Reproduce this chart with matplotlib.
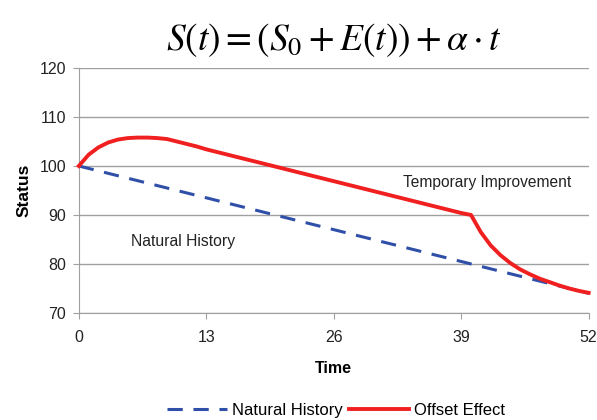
import numpy as np
import matplotlib
matplotlib.use("Agg")
import matplotlib.pyplot as plt

plt.rcParams['font.family'] = ['Liberation Sans', 'DejaVu Sans']
plt.rcParams['mathtext.fontset'] = 'stix'

# weekly values
weeks = list(range(53))
offset_effect = [100.0, 102.3, 103.8, 104.8, 105.4, 105.7, 105.8, 105.8, 105.7, 105.5,
                 105.0, 104.5, 104.0, 103.4, 102.9, 102.4, 101.9, 101.4, 100.9, 100.4,
                 99.9, 99.4, 98.9, 98.4, 97.9, 97.4, 96.9, 96.4, 95.9, 95.4,
                 94.9, 94.4, 93.9, 93.4, 92.9, 92.4, 91.9, 91.4, 90.9, 90.4,
                 90.0, 86.5, 83.8, 81.8, 80.2, 78.9, 77.9, 77.0, 76.3, 75.6,
                 75.0, 74.5, 74.1]
nh_weeks = [0, 13, 26, 39, 52]
natural_history = [100.0, 93.5, 87.0, 80.5, 74.0]

x_ticks = [0, 13, 26, 39, 52]
y_ticks = [70, 80, 90, 100, 110, 120]

fig = plt.figure(figsize=(5.97, 4.20), dpi=100)
ax = fig.add_axes([0.132, 0.255, 0.854, 0.583])

ax.plot(nh_weeks, natural_history, color='#2f4fa8', lw=2.2, ls=(0, (5, 3.5)),
        label='Natural History', zorder=3)
ax.plot(weeks, offset_effect, color='#f02020', lw=2.8, label='Offset Effect',
        zorder=4, clip_on=False)

ax.set_xlim(0, 52)
ax.set_ylim(70, 120)
ax.set_xticks(x_ticks)
ax.set_yticks(y_ticks)
ax.yaxis.grid(True, color='#a0a0a0', lw=1)
ax.set_axisbelow(True)
for s in ['top', 'right']:
    ax.spines[s].set_visible(False)
for s in ['left', 'bottom']:
    ax.spines[s].set_color('#a0a0a0')
ax.tick_params(colors='#a0a0a0', labelcolor='#222222', labelsize=11.5, direction='out', length=4)
ax.tick_params(axis='y', pad=5)
ax.tick_params(axis='x', pad=8)

ax.set_xlabel('Time', fontsize=11.5, fontweight='bold', labelpad=12)
ax.set_ylabel('Status', fontsize=12.5, fontweight='bold', labelpad=6)

ax.text(41.6, 96.6, 'Temporary Improvement', fontsize=11.2, ha='center', va='center', color='#222222')
ax.text(10.6, 84.6, 'Natural History', fontsize=11.3, ha='center', va='center', color='#222222')

fig.text(0.56, 0.905, r'$S(t)=\left(S_0+E(t)\right)+\alpha\cdot t$', fontsize=27,
         ha='center', va='center')

fig.legend(loc='lower center', bbox_to_anchor=(0.563, -0.03), ncol=2, frameon=False,
           fontsize=12, handlelength=3.6, handletextpad=0.3, columnspacing=0.4)

fig.savefig('out.png', dpi=100)
